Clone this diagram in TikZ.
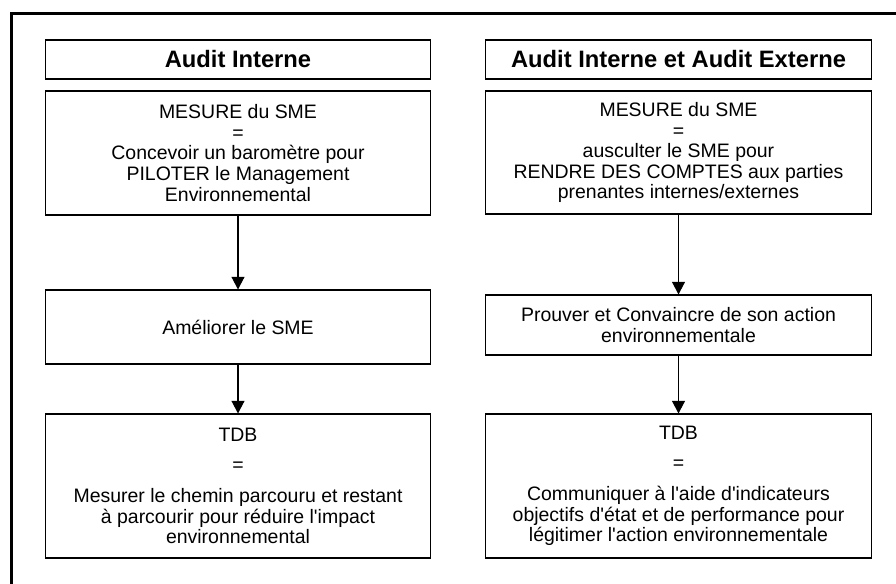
\documentclass[tikz,border=0pt]{standalone}
\usepackage{fontspec}
\setmainfont{Liberation Sans}
\usetikzlibrary{positioning,arrows.meta}

\begin{document}
\begin{tikzpicture}[
  x=0.75pt, y=-0.75pt,
  every node/.style={rectangle, draw, line width=0.8pt, align=center,
  inner sep=0pt, minimum width=289pt,
  font=\fontsize{14.6}{15.4}\selectfont},
  titre/.style={minimum height=29.25pt,
  font=\fontsize{17.8}{20}\selectfont\bfseries},
  fleche/.style={-{Triangle[width=9.75pt,length=9.5pt]}, line width=0.8pt},
]
\useasboundingbox (0,0) rectangle (896,583);
% cadre (coupe a droite et en bas)
\draw[line width=2.25pt] (11.5,590) -- (11.5,13.5) -- (900,13.5);

% colonne gauche
\node[titre] (tg) at (238,59.5) {Audit Interne};
\node[minimum height=93pt] (g1) at (238,153) {MESURE du SME\\=\\Concevoir un baromètre pour\\PILOTER le Management\\Environnemental};
\node[minimum height=55.5pt] (g2) at (238,327) {Améliorer le SME};
\node[minimum height=108pt] (g3) at (238,486) {TDB\\[7pt]=\\[8pt]Mesurer le chemin parcouru et restant\\à parcourir pour réduire l\textquotesingle impact\\environnemental};

% colonne droite
\node[titre] (td) at (678.5,59.5) {Audit Interne et Audit Externe};
\node[minimum height=92.25pt] (d1) at (678.5,152.5) {MESURE du SME\\=\\ausculter le SME pour\\RENDRE DES COMPTES aux parties\\prenantes internes/externes};
\node[minimum height=45pt] (d2) at (678.5,325) {Prouver et Convaincre de son action\\environnementale};
\node[minimum height=108pt] (d3) at (678.5,486) {TDB\\[7pt]=\\[8pt]Communiquer à l\textquotesingle aide d\textquotesingle indicateurs\\objectifs d\textquotesingle état et de performance pour\\légitimer l\textquotesingle action environnementale};

\draw[fleche] (g1) -- (g2);
\draw[fleche] (g2) -- (g3);
\draw[fleche] (d1) -- (d2);
\draw[fleche] (d2) -- (d3);
\end{tikzpicture}
\end{document}
